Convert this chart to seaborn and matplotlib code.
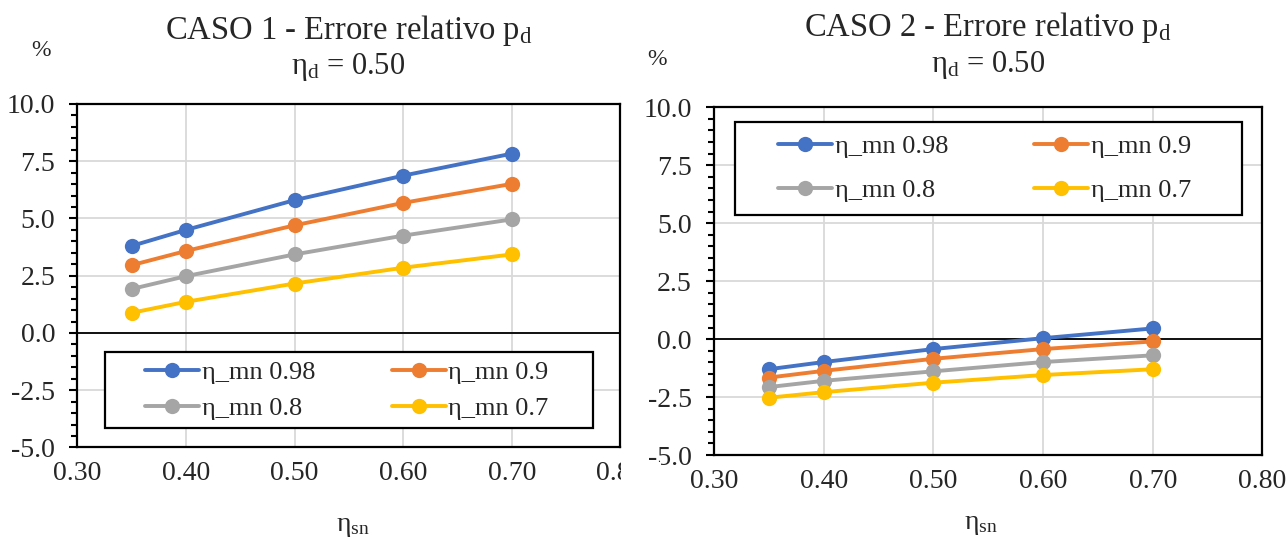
import numpy as np
import pandas as pd
import matplotlib as mpl
import matplotlib.pyplot as plt
import seaborn as sns
from matplotlib.ticker import MultipleLocator, FormatStrFormatter
from matplotlib.patches import Rectangle
from matplotlib.legend import Legend

# values
eta_sn = [0.35, 0.40, 0.50, 0.60, 0.70]
series = ['η_mn 0.98', 'η_mn 0.9', 'η_mn 0.8', 'η_mn 0.7']

caso1_098 = [3.80, 4.50, 5.80, 6.87, 7.83]
caso1_090 = [2.96, 3.58, 4.70, 5.68, 6.51]
caso1_080 = [1.92, 2.48, 3.43, 4.25, 4.96]
caso1_070 = [0.88, 1.36, 2.16, 2.85, 3.43]

caso2_098 = [-1.30, -0.99, -0.43, 0.04, 0.46]
caso2_090 = [-1.66, -1.37, -0.85, -0.43, -0.10]
caso2_080 = [-2.07, -1.80, -1.39, -0.99, -0.70]
caso2_070 = [-2.53, -2.29, -1.88, -1.55, -1.30]

colors = ['#4472C4', '#ED7D31', '#A5A5A5', '#FFC000']


def long_df(vals):
    rows = []
    for name, v in zip(series, vals):
        for x, y in zip(eta_sn, v):
            rows.append({'eta_sn': x, 'err': y, 'serie': name})
    return pd.DataFrame(rows)


df1 = long_df([caso1_098, caso1_090, caso1_080, caso1_070])
df2 = long_df([caso2_098, caso2_090, caso2_080, caso2_070])

sns.set_style('white')
plt.rcParams['font.family'] = ['Liberation Serif', 'DejaVu Serif']
plt.rcParams['mathtext.fontset'] = 'custom'
plt.rcParams['mathtext.rm'] = 'Liberation Serif'
plt.rcParams['mathtext.it'] = 'Liberation Serif:italic'
plt.rcParams['axes.unicode_minus'] = False

fig = plt.figure(figsize=(12.88, 5.37), dpi=100)
ax1 = fig.add_axes([0.0600, 0.1667, 0.4217, 0.6397])
ax2 = fig.add_axes([0.5543, 0.1527, 0.4259, 0.6475])


def style_axis(ax, df, box, col_x, row_y, spacing):
    sns.lineplot(data=df, x='eta_sn', y='err', hue='serie', hue_order=series,
                 palette=colors, marker='o', markersize=11, linewidth=2.8,
                 markeredgewidth=0, legend=False, ax=ax, zorder=3)
    handles = list(ax.lines[:4])
    ax.axhline(0, color='black', lw=1.3, zorder=2)

    ax.set_xlim(0.30, 0.80)
    ax.set_ylim(-5, 10)
    ax.set_xticks(np.arange(0.30, 0.801, 0.10))
    ax.set_yticks(np.arange(-5, 10.01, 2.5))
    ax.xaxis.set_major_formatter(FormatStrFormatter('%.2f'))
    ax.yaxis.set_major_formatter(FormatStrFormatter('%.1f'))
    ax.yaxis.set_minor_locator(MultipleLocator(0.5))
    ax.grid(True, which='major', color='#D9D9D9', lw=1.3)
    ax.set_axisbelow(True)
    ax.set_xlabel('')
    ax.set_ylabel('')

    for s in ax.spines.values():
        s.set_visible(True)
        s.set_color('black')
        s.set_linewidth(1.6)
    ax.tick_params(axis='y', which='major', direction='out', length=6,
                   width=1.5, labelsize=20, pad=10, left=True, color='black')
    ax.tick_params(axis='y', which='minor', direction='out', length=4,
                   width=1.5, left=True, color='black')
    ax.tick_params(axis='x', which='both', length=0, labelsize=20, pad=10)

    # legend frame drawn as a box, the two columns as two frameless legends
    ax.add_patch(Rectangle(box[:2], box[2], box[3], transform=ax.transAxes,
                           facecolor='white', edgecolor='black', lw=1.6,
                           zorder=4))
    for c, idx in enumerate([(0, 2), (1, 3)]):
        leg = Legend(ax, [handles[i] for i in idx], [series[i] for i in idx],
                     loc='center left', bbox_to_anchor=(col_x[c], row_y),
                     fontsize=19, frameon=False, handlelength=2.05,
                     handletextpad=0.1, labelspacing=spacing,
                     borderpad=0, borderaxespad=0)
        leg.set_zorder(5)
        ax.add_artist(leg)


style_axis(ax1, df1, (0.0515, 0.0568, 0.8984, 0.2221),
           (0.1246, 0.5788), 0.1671, 0.48)
style_axis(ax2, df2, (0.0377, 0.6902, 0.9243, 0.2666),
           (0.1172, 0.5834), 0.8243, 0.80)

# titles and axis captions
fig.text(0.2705, 0.9274, 'CASO 1 - Errore relativo p$_\\mathregular{d}$',
         ha='center', va='baseline', fontsize=23.5)
fig.text(0.2705, 0.8613, 'η$_\\mathregular{d}$ = 0.50',
         ha='center', va='baseline', fontsize=22)
fig.text(0.0315, 0.9061, '%', ha='center', va='center', fontsize=17)
fig.text(0.2740, 0.0110, 'η$_\\mathregular{sn}$', ha='center', va='baseline',
         fontsize=20)

fig.text(0.7671, 0.9330, 'CASO 2 - Errore relativo p$_\\mathregular{d}$',
         ha='center', va='baseline', fontsize=23.5)
fig.text(0.7671, 0.8660, 'η$_\\mathregular{d}$ = 0.50',
         ha='center', va='baseline', fontsize=22)
fig.text(0.5101, 0.8900, '%', ha='center', va='center', fontsize=17)
fig.text(0.7617, 0.0150, 'η$_\\mathregular{sn}$', ha='center', va='baseline',
         fontsize=20)

# the left chart's last x label is cut at its chart edge
fig.add_artist(Rectangle((621 / 1288, 0.06), 40 / 1288, 0.08,
                         transform=fig.transFigure, facecolor='white',
                         edgecolor='none', zorder=10))

fig.savefig('out.png', dpi=100)
